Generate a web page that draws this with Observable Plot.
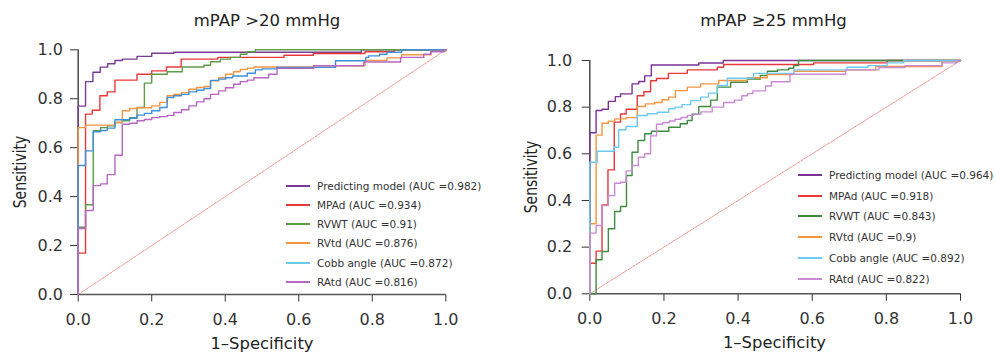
<!DOCTYPE html>
<html>
<head>
<meta charset="utf-8">
<script src="https://cdn.jsdelivr.net/npm/d3@7"></script>
<script src="https://cdn.jsdelivr.net/npm/@observablehq/plot@0.6"></script>
<style>
  html, body { margin: 0; padding: 0; background: #fff; }
  #wrap { position: relative; width: 995px; height: 356px; overflow: hidden; font-family: "DejaVu Sans", sans-serif; color: #222; }
  .abs { position: absolute; white-space: nowrap; }
  .title { font-size: 16.5px; line-height: 16.5px; transform: translateX(-50%); color: #222; }
  .xlab { font-size: 16.4px; line-height: 16.4px; transform: translateX(-50%); color: #222; }
  .ylab { font-size: 17px; line-height: 17px; transform: translate(-50%, -50%) rotate(-90deg) scaleX(0.82); color: #222; }
  .leg { font-size: 10.5px; height: 14px; display: flex; align-items: center; color: #333; }
  .leg .sw { display: inline-block; width: 24px; height: 2px; }
</style>
</head>
<body>
<div id="wrap">
  <div id="left" class="abs" style="left:0;top:0"></div>
  <div id="right" class="abs" style="left:500px;top:0"></div>
</div>
<script>
// ---------- data ----------
const seriesNames = ["Predicting model", "MPAd", "RVWT", "RVtd", "Cobb angle", "RAtd"];
const leftAUC  = ["0.982", "0.934", "0.91", "0.876", "0.872", "0.816"];
const rightAUC = ["0.964", "0.918", "0.843", "0.9", "0.892", "0.822"];
const leftTitle = "mPAP >20 mmHg";
const rightTitle = "mPAP \u226525 mmHg";
const xLabel = "1\u2013Specificity";
const yLabel = "Sensitivity";
const tickValues = [0, 0.2, 0.4, 0.6, 0.8, 1.0];
const diagonal = [0, 1];

// Left panel (mPAP >20 mmHg): 1-specificity (x) and sensitivity (y) at each step
const L_pred_x = [0,0,0.02,0.04,0.06,0.08,0.10,0.12,0.16,0.20,0.26,0.77,1];
const L_pred_y = [0,0.77,0.87,0.908,0.929,0.943,0.956,0.962,0.973,0.986,0.99,1,1];
const L_mpad_x = [0,0,0.02,0.038,0.059,0.079,0.10,0.16,0.20,0.24,0.28,0.38,0.56,0.64,0.78,0.86,1];
const L_mpad_y = [0,0.169,0.737,0.753,0.812,0.828,0.876,0.90,0.914,0.93,0.962,0.969,0.978,0.985,0.992,1,1];
const L_rvwt_x = [0,0,0.02,0.041,0.061,0.079,0.10,0.12,0.14,0.16,0.18,0.20,0.242,0.283,0.342,0.36,0.387,0.414,0.441,0.459,0.482,1];
const L_rvwt_y = [0,0.275,0.367,0.669,0.682,0.689,0.703,0.71,0.723,0.764,0.864,0.9,0.91,0.93,0.937,0.951,0.962,0.969,0.982,0.992,1,1];
const L_rvtd_x = [0,0,0.02,0.10,0.12,0.14,0.16,0.20,0.222,0.242,0.26,0.281,0.301,0.322,0.342,0.36,0.382,0.401,0.423,0.441,0.46,0.478,0.64,0.78,0.84,0.88,0.96,1];
const L_rvtd_y = [0,0.682,0.692,0.703,0.751,0.76,0.763,0.771,0.785,0.812,0.818,0.825,0.839,0.846,0.85,0.873,0.886,0.9,0.91,0.92,0.925,0.93,0.935,0.956,0.967,0.98,0.994,1];
const L_cobb_x = [0,0,0.02,0.041,0.061,0.079,0.10,0.14,0.16,0.18,0.20,0.222,0.242,0.26,0.281,0.301,0.322,0.342,0.36,0.382,0.401,0.42,0.46,0.482,0.50,0.54,0.70,0.782,0.79,0.82,0.84,0.88,1];
const L_cobb_y = [0,0.527,0.587,0.665,0.67,0.68,0.714,0.72,0.733,0.74,0.751,0.764,0.805,0.812,0.818,0.828,0.835,0.842,0.875,0.88,0.886,0.893,0.904,0.918,0.922,0.928,0.955,0.969,0.975,0.982,0.99,1,1];
const L_ratd_x = [0,0,0.02,0.041,0.061,0.079,0.10,0.12,0.14,0.16,0.18,0.20,0.222,0.242,0.26,0.281,0.301,0.322,0.342,0.36,0.382,0.401,0.423,0.441,0.46,0.478,0.518,0.541,0.641,0.777,0.877,0.94,0.959,0.995,1];
const L_ratd_y = [0,0.27,0.343,0.445,0.452,0.49,0.569,0.696,0.70,0.71,0.715,0.723,0.727,0.732,0.744,0.755,0.771,0.787,0.80,0.818,0.832,0.845,0.859,0.87,0.876,0.886,0.9,0.924,0.935,0.95,0.969,0.982,0.992,1,1];

// Right panel (mPAP >=25 mmHg)
const R_pred_x = [0,0,0.017,0.033,0.05,0.069,0.083,0.114,0.132,0.148,0.166,0.294,0.36,1];
const R_pred_y = [0,0.69,0.786,0.791,0.825,0.845,0.857,0.9,0.91,0.934,0.981,0.989,1,1];
const R_mpad_x = [0,0,0.017,0.033,0.049,0.066,0.083,0.098,0.128,0.146,0.164,0.18,0.212,0.263,0.344,0.361,0.604,0.802,1];
const R_mpad_y = [0,0.131,0.183,0.381,0.531,0.736,0.771,0.791,0.849,0.866,0.913,0.923,0.945,0.96,0.971,0.983,0.99,1,1];
const R_rvwt_x = [0,0.017,0.017,0.033,0.05,0.067,0.083,0.099,0.114,0.13,0.148,0.166,0.213,0.244,0.263,0.276,0.294,0.326,0.344,0.38,0.425,0.46,0.479,0.506,0.537,0.55,0.563,1];
const R_rvwt_y = [0,0.014,0.146,0.181,0.279,0.353,0.374,0.507,0.607,0.657,0.686,0.697,0.714,0.729,0.743,0.77,0.803,0.83,0.886,0.907,0.921,0.936,0.954,0.96,0.967,0.978,1,1];
const R_rvtd_x = [0,0,0.017,0.033,0.05,0.067,0.098,0.128,0.15,0.175,0.195,0.213,0.231,0.263,0.299,0.348,0.425,0.479,0.55,0.69,0.771,0.95,1];
const R_rvtd_y = [0,0.30,0.68,0.731,0.74,0.75,0.755,0.803,0.814,0.82,0.832,0.843,0.871,0.886,0.9,0.914,0.926,0.94,0.954,0.96,0.974,1,1];
const R_cobb_x = [0,0,0.02,0.065,0.078,0.098,0.128,0.155,0.182,0.213,0.23,0.249,0.272,0.299,0.32,0.344,0.371,0.442,0.55,0.694,0.75,0.802,0.847,1];
const R_cobb_y = [0,0.564,0.611,0.628,0.703,0.717,0.764,0.772,0.778,0.793,0.80,0.811,0.828,0.843,0.86,0.893,0.924,0.945,0.96,0.971,0.978,0.99,1,1];
const R_ratd_x = [0,0,0.017,0.033,0.05,0.067,0.083,0.098,0.114,0.131,0.148,0.164,0.18,0.196,0.214,0.23,0.246,0.263,0.28,0.30,0.33,0.361,0.39,0.41,0.425,0.44,0.474,0.49,0.54,0.69,0.78,0.85,0.95,0.99,1];
const R_ratd_y = [0,0.26,0.293,0.378,0.421,0.474,0.478,0.527,0.55,0.585,0.60,0.677,0.727,0.733,0.741,0.748,0.756,0.764,0.77,0.78,0.80,0.82,0.83,0.849,0.858,0.87,0.891,0.909,0.941,0.96,0.97,0.978,0.99,1,1];

const leftColors  = ["#7a3a96", "#e8383a", "#5e9c48", "#f49540", "#3d90dc", "#b865c6"];
const rightColors = ["#7b3294", "#e8383a", "#3f8c3f", "#f49540", "#6ccaf2", "#c98ad3"];
const legendColorsLeft  = ["#7a3a96", "#e8383a", "#5e9c48", "#f49540", "#6ccaf2", "#b865c6"];
const legendColorsRight = rightColors;

// ---------- build ----------
function rows(xsList, ysList) {
  return seriesNames.flatMap((s, i) => xsList[i].map((x, j) => ({s, x, y: ysList[i][j]})));
}

function panel(cfg) {
  const data = rows(cfg.xs, cfg.ys);
  return Plot.plot({
    width: cfg.width, height: cfg.height,
    marginLeft: cfg.ml, marginRight: cfg.mr, marginTop: cfg.mt, marginBottom: cfg.mb,
    style: {fontFamily: "DejaVu Sans", fontSize: "16px", color: "#333", background: "transparent", overflow: "visible"},
    x: {domain: [0, 1], ticks: tickValues, tickFormat: d => d.toFixed(1), tickSize: 7.5, tickPadding: cfg.xpad, label: null},
    y: {domain: [0, 1], ticks: tickValues, tickFormat: d => d.toFixed(1), tickSize: 7.6, tickPadding: cfg.ypad, label: null},
    color: {domain: seriesNames, range: cfg.colors},
    marks: [
      Plot.ruleX([0], {y1: 0, y2: 1, stroke: "#555", strokeWidth: 1.6}),
      Plot.ruleY([0], {x1: 0, x2: 1, stroke: "#555", strokeWidth: 1.6}),
      Plot.line(diagonal, {x: d => d, y: d => d, stroke: "#e8776e", strokeWidth: 0.8, strokeDasharray: "2,1.2"}),
      Plot.line(data, {x: "x", y: "y", z: "s", stroke: "s", curve: "step-after", strokeWidth: 1.4})
    ]
  });
}

const left = panel({
  width: 470, height: 356, ml: 77.7, mr: 24.7, mt: 49.3, mb: 62, xpad: 11.5, ypad: 7.7,
  colors: leftColors,
  xs: [L_pred_x, L_mpad_x, L_rvwt_x, L_rvtd_x, L_cobb_x, L_ratd_x],
  ys: [L_pred_y, L_mpad_y, L_rvwt_y, L_rvtd_y, L_cobb_y, L_ratd_y]
});
document.getElementById("left").appendChild(left);

const right = panel({
  width: 495, height: 356, ml: 89.3, mr: 35, mt: 60, mb: 62.7, xpad: 11, ypad: 10,
  colors: rightColors,
  xs: [R_pred_x, R_mpad_x, R_rvwt_x, R_rvtd_x, R_cobb_x, R_ratd_x],
  ys: [R_pred_y, R_mpad_y, R_rvwt_y, R_rvtd_y, R_cobb_y, R_ratd_y]
});
document.getElementById("right").appendChild(right);

const wrap = document.getElementById("wrap");
function addText(cls, text, left, top) {
  const d = document.createElement("div");
  d.className = "abs " + cls;
  d.style.left = left + "px";
  d.style.top = top + "px";
  d.textContent = text;
  wrap.appendChild(d);
  return d;
}
addText("title", leftTitle, 267, 13);
addText("title", rightTitle, 773.5, 13);
addText("xlab", xLabel, 262, 336);
addText("xlab", xLabel, 774.5, 334.8);
addText("ylab", yLabel, 19.5, 171.7);
addText("ylab", yLabel, 530.5, 176.7);

function legend(x0, y0, step, aucs, colors) {
  seriesNames.forEach((s, i) => {
    const d = document.createElement("div");
    d.className = "abs leg";
    d.style.left = x0 + "px";
    d.style.top = Math.round(y0 + i * step - 7) + "px";
    const sw = document.createElement("span");
    sw.className = "sw";
    sw.style.background = colors[i];
    const t = document.createElement("span");
    t.style.marginLeft = "7px";
    t.textContent = `${s} (AUC =${aucs[i]})`;
    d.appendChild(sw); d.appendChild(t);
    wrap.appendChild(d);
  });
}
legend(286, 186, 19.15, leftAUC, legendColorsLeft);
legend(798, 175, 20.7, rightAUC, legendColorsRight);
</script>
</body>
</html>
